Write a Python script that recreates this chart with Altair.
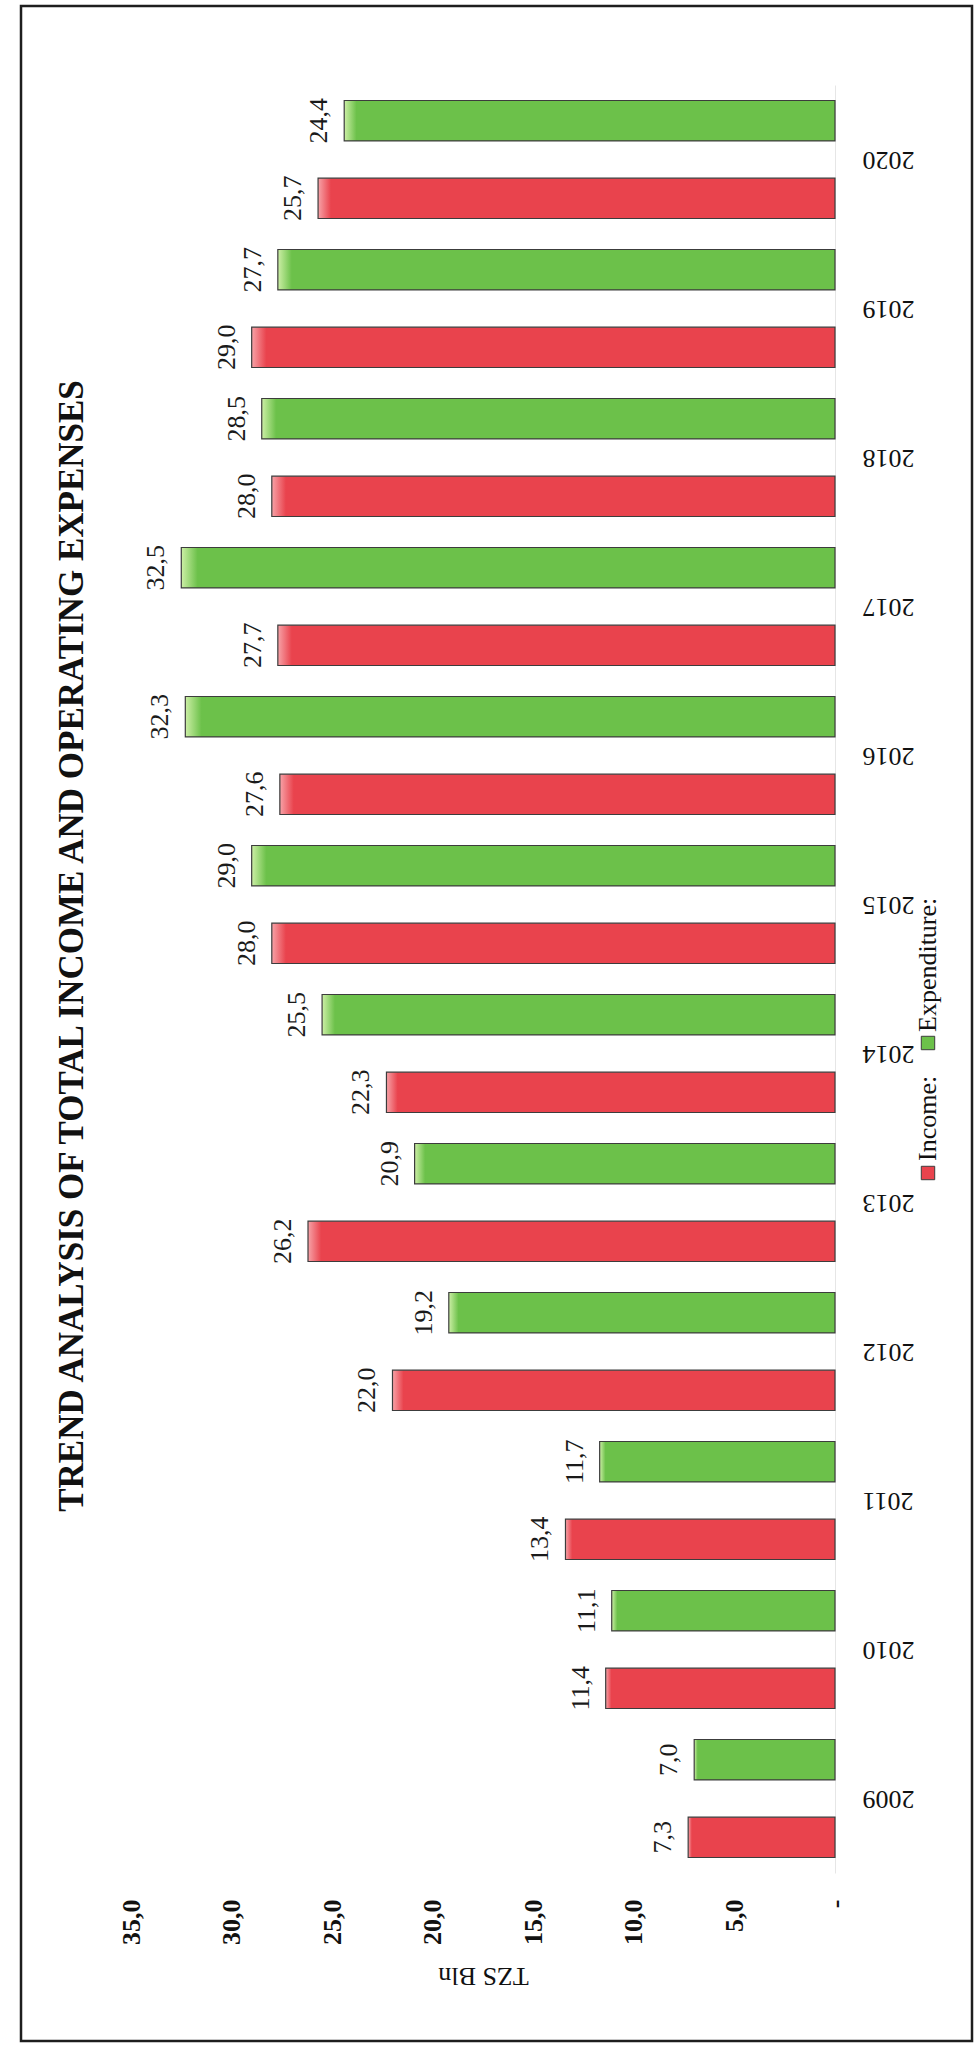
import altair as alt
import pandas as pd

# ---- data ----
years = ["2009", "2010", "2011", "2012", "2013", "2014", "2015", "2016", "2017", "2018", "2019", "2020"]
income = [7.3, 11.4, 13.4, 22.0, 26.2, 22.3, 28.0, 27.6, 27.7, 28.0, 29.0, 25.7]
expenditure = [7.0, 11.1, 11.7, 19.2, 20.9, 25.5, 29.0, 32.3, 32.5, 28.5, 27.7, 24.4]
series_names = ["Income:", "Expenditure:"]
tick_values = [0, 5, 10, 15, 20, 25, 30, 35]
title_text = "TREND ANALYSIS OF TOTAL INCOME AND OPERATING EXPENSES"
axis_title = "TZS Bln"

rows = []
for y, i_v, e_v in zip(years, income, expenditure):
    rows.append({"year": y, "series": series_names[0], "value": i_v})
    rows.append({"year": y, "series": series_names[1], "value": e_v})
df = pd.DataFrame(rows)

SERIF = "Liberation Serif, Times New Roman, serif"
RED = "#E9434D"
GREEN = "#6CC14A"
RED_LIGHT = "#F7A3A8"
GREEN_LIGHT = "#CDEFA6"
EDGE = "#3c3c3c"

W, H = 704, 1788          # plot area
PL, PT = 131, 85          # padding left / top
PR, PB = 979 - PL - W, 2048 - PT - H

years_desc = list(reversed(years))

y_enc = alt.Y(
    "year:N",
    scale=alt.Scale(domain=years_desc, paddingInner=0, paddingOuter=0),
    axis=alt.Axis(
        orient="right", title=None, ticks=False, tickSize=0,
        domain=True, domainColor="#e6e6e6", domainWidth=1,
        labelAngle=180, labelAlign="right", labelBaseline="middle",
        labelPadding=27, labelFont=SERIF, labelFontSize=26, labelColor="#111111",
    ),
)
yoff_enc = alt.YOffset(
    "series:N",
    scale=alt.Scale(domain=[series_names[1], series_names[0]], paddingInner=0.48, paddingOuter=0.2),
)
x_enc = alt.X(
    "value:Q",
    scale=alt.Scale(domain=[0, 35], reverse=True, nice=False, zero=True),
    axis=alt.Axis(
        orient="bottom", values=tick_values, grid=False, ticks=False, tickSize=0, domain=False,
        labelExpr="datum.value == 0 ? '-\u00a0\u00a0' : replace(format(datum.value, '.1f'), '.', ',')",
        labelAngle=270, labelAlign="right", labelBaseline="middle", labelPadding=26,
        labelFont=SERIF, labelFontSize=26, labelFontWeight="bold", labelColor="#111111",
        title=axis_title, titleAngle=180, titleFont=SERIF, titleFontSize=26,
        titleFontWeight="normal", titleColor="#111111", titleY=102, titleBaseline="middle",
        titleAlign="center",
    ),
)

base = alt.Chart(df).encode(y=y_enc, yOffset=yoff_enc, x=x_enc)


def grad(light, col):
    return alt.Gradient(
        gradient="linear", x1=0, x2=1, y1=0, y2=0,
        stops=[alt.GradientStop(color=light, offset=0),
               alt.GradientStop(color=col, offset=0.025),
               alt.GradientStop(color=col, offset=1)],
    )


bars_inc = base.transform_filter(alt.datum.series == series_names[0]).mark_bar(
    fill=grad(RED_LIGHT, RED), stroke=EDGE, strokeWidth=1.2
)
bars_exp = base.transform_filter(alt.datum.series == series_names[1]).mark_bar(
    fill=grad(GREEN_LIGHT, GREEN), stroke=EDGE, strokeWidth=1.2
)

labels = base.transform_calculate(
    label="replace(format(datum.value, '.1f'), '.', ',')"
).mark_text(
    angle=270, align="center", baseline="bottom", dy=-12,
    font=SERIF, fontSize=26, color="#1a1a1a",
).encode(text="label:N")

# ---- rotated legend (drawn as marks since the page is rotated) ----
leg_df = pd.DataFrame({"name": series_names, "col": [RED, GREEN]})
LEG_X = 797
leg_inc_sq = alt.Chart(leg_df).transform_filter(alt.datum.name == series_names[0]).mark_square(
    size=180, fill=RED, stroke=EDGE, strokeWidth=1, opacity=1
).encode(x=alt.value(LEG_X), y=alt.value(1088))
leg_exp_sq = alt.Chart(leg_df).transform_filter(alt.datum.name == series_names[1]).mark_square(
    size=180, fill=GREEN, stroke=EDGE, strokeWidth=1, opacity=1
).encode(x=alt.value(LEG_X), y=alt.value(958))
leg_inc_tx = alt.Chart(leg_df).transform_filter(alt.datum.name == series_names[0]).mark_text(
    angle=270, align="left", baseline="middle", font=SERIF, fontSize=26, color="#111111"
).encode(x=alt.value(LEG_X), y=alt.value(1076), text="name:N")
leg_exp_tx = alt.Chart(leg_df).transform_filter(alt.datum.name == series_names[1]).mark_text(
    angle=270, align="left", baseline="middle", font=SERIF, fontSize=26, color="#111111"
).encode(x=alt.value(LEG_X), y=alt.value(947), text="name:N")

# ---- rotated title ----
title_df = pd.DataFrame({"t": [title_text]})
title_mark = alt.Chart(title_df).mark_text(
    angle=270, align="center", baseline="middle", font=SERIF, fontSize=35,
    fontWeight="bold", color="#111111",
).encode(x=alt.value(72 - PL), y=alt.value(946 - PT), text="t:N")

# ---- page frame ----
frame = alt.Chart(title_df).mark_rect(
    fill="transparent", stroke="#1e1e1e", strokeWidth=2.5
).encode(
    x=alt.value(21 - PL), x2=alt.value(972 - PL),
    y=alt.value(6 - PT), y2=alt.value(2041 - PT),
)

chart = alt.layer(
    frame, bars_inc, bars_exp, labels, title_mark,
    leg_inc_sq, leg_exp_sq, leg_inc_tx, leg_exp_tx,
).properties(
    width=W, height=H,
    padding={"left": PL, "top": PT, "right": PR, "bottom": PB},
    autosize=alt.AutoSizeParams(type="none"),
    background="white",
).configure_view(stroke=None)

chart.save("out.html", embed_options={"renderer": "svg", "actions": False})
